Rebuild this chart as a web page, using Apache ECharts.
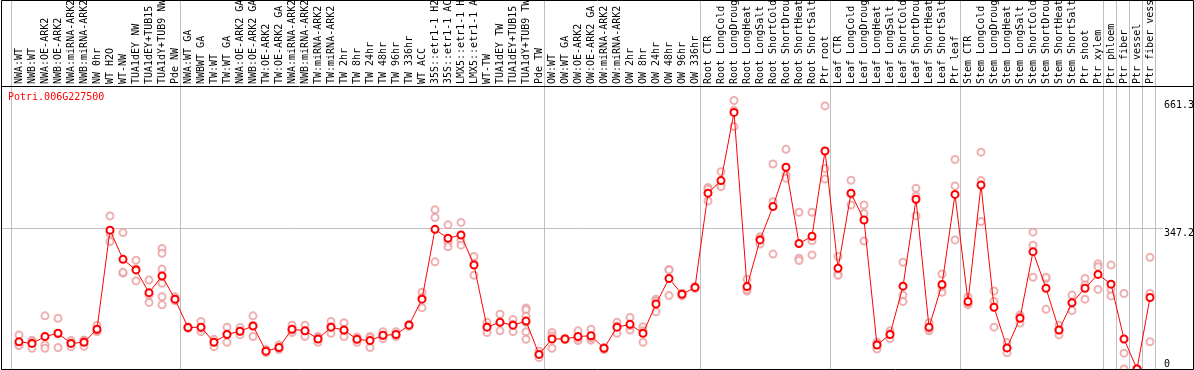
<!DOCTYPE html>
<html><head><meta charset="utf-8">
<script src="https://cdn.jsdelivr.net/npm/echarts@6/dist/echarts.min.js"></script>
<style>html,body{margin:0;padding:0;background:#fff}#c{width:1194px;height:370px}</style>
</head><body><div id="c"></div>
<script>
const title = 'Potri.006G227500';
const categories = [
 'NWA:WT','NWB:WT','NWA:OE-ARK2','NWB:OE-ARK2','NWA:miRNA-ARK2','NWB:miRNA-ARK2','NW 0hr','WT H2O','WT-NW','TUA1dEY NW','TUA1dEY+TUB15 NW','TUA1dY+TUB9 NW','Pde NW',
 'NWA:WT GA','NWBWT GA','TW:WT','TW:WT GA','NWA:OE-ARK2 GA','NWB:OE-ARK2 GA','TW:OE-ARK2','TW:OE-ARK2 GA','NWA:miRNA-ARK2 GA','NWB:miRNA-ARK2 GA','TW:miRNA-ARK2','TW:miRNA-ARK2 GA',
 'TW 2hr','TW 8hr','TW 24hr','TW 48hr','TW 96hr','TW 336hr','WT ACC','35S::etr1-1 H2O','35S::etr1-1 ACC','LMX5::etr1-1 H2O','LMX5::etr1-1 ACC','WT-TW','TUA1dEY TW','TUA1dEY+TUB15 TW','TUA1dY+TUB9 TW','Pde TW',
 'OW:WT','OW:WT GA','OW:OE-ARK2','OW:OE-ARK2 GA','OW:miRNA-ARK2','OW:miRNA-ARK2 GA','OW 2hr','OW 8hr','OW 24hr','OW 48hr','OW 96hr','OW 336hr',
 'Root CTR','Root LongCold','Root LongDrought','Root LongHeat','Root LongSalt','Root ShortCold','Root ShortDrought','Root ShortHeat','Root ShortSalt','Ptr root',
 'Leaf CTR','Leaf LongCold','Leaf LongDrought','Leaf LongHeat','Leaf LongSalt','Leaf ShortCold','Leaf ShortDrought','Leaf ShortHeat','Leaf ShortSalt','Ptr leaf',
 'Stem CTR','Stem LongCold','Stem LongDrought','Stem LongHeat','Stem LongSalt','Stem ShortCold','Stem ShortDrought','Stem ShortHeat','Stem ShortSalt','Ptr shoot',
 'Ptr xylem','Ptr phloem','Ptr fiber','Ptr vessel','Ptr fiber vessel'
];
const means = [
 67,63,80,88,63,66,98,342,270,244,188,229,172,
 102,103,66,85,93,106,44,53,98,94,74,103,96,73,70,83,85,108,172,344,322,330,256,103,115,108,118,36,
 74,74,80,82,51,103,110,88,160,223,184,201,
 433,464,632,203,318,400,497,309,327,537,
 248,433,367,59,85,204,418,103,208,430,
 166,453,152,52,125,289,199,96,163,199,
 233,209,74,0,176
];
const replicates = [
 [84,59,58],[71,51,67],[131,59,51],[125,53,86],[70,55,64],[71,56,71],[108,92,94],[377,334,314],[336,236,238],[268,217,247],[219,182,164],[297,285,246,211,178,158],[178,168,171],
 [104,100,102],[117,92,100],[69,55,73],[103,66,86],[102,84,93],[131,80,107],[40,45,48],[59,48,52],[108,90,96],[108,80,94],[80,66,76],[117,88,104],[114,80,94],[79,66,74],[80,53,77],[92,75,82],[92,80,83],[105,110,109],[189,151,176],[392,373,264],[355,311,301],[361,316,305],[277,260,231],[115,90,104],[135,94,116],[122,92,110],[150,146,130,115,92,73],[44,28,36],
 [90,51,81],[72,75,75],[94,70,76],[98,71,77],[48,52,53],[115,88,106],[127,96,107],[104,66,94],[172,141,167],[245,181,244],[180,186,186],[198,203,202],
 [447,443,414],[486,453,449],[661.3,637,597],[221,192,196],[326,308,320],[412,283,505],[541,478,470],[386,273,267],[386,316,281],[648,494,468],
 [277,234,231],[465,404,430],[404,383,315],[66,49,63],[94,75,87],[263,182,166],[445,426,377],[114,94,100],[234,189,203],[516,451,318],
 [177,158,163],[534,464,363],[192,167,103],[65,40,52],[133,113,128],[337,305,226],[223,147,226],[108,84,96],[182,144,164],[223,207,172],
 [259,252,196],[256,196,180],[186,39,0],[0,0,0],[275,186,67]
];
const groupStarts = [0,13,41,53,63,73,84,85,86,87];
const yMax = 697;
const yLabelValues = [347.2, 661.3];
const yZeroLabel = [0];

const FONT = 'DejaVu Sans Mono';
const repPoints = [];
replicates.forEach((r, i) => r.forEach(v => repPoints.push([i, v])));

const chart = echarts.init(document.getElementById('c'), null, {renderer: 'canvas'});
chart.setOption({
  animation: false,
  title: {text: title, left: 8, top: 92, padding: 0,
    textStyle: {color: '#ff0000', fontFamily: FONT, fontSize: 10, fontWeight: 'normal'}},
  grid: [
    {left: 11, top: 0, width: 1144, height: 369, outerBoundsMode: 'none', containLabel: false},
    {left: 12.5, top: 86, width: 1144, height: 283, outerBoundsMode: 'none', containLabel: false},
    {left: 2, top: 86, width: 1161, height: 283, outerBoundsMode: 'none', containLabel: false}
  ],
  xAxis: [
    {gridIndex: 0, type: 'category', data: categories, boundaryGap: true,
      axisLine: {show: false}, axisTick: {show: false}, axisLabel: {show: false},
      splitLine: {show: true, interval: (i) => groupStarts.includes(i), lineStyle: {color: '#c0c0c0', width: 1}}},
    {gridIndex: 1, type: 'category', position: 'top', data: categories, boundaryGap: true,
      axisLine: {show: false}, axisTick: {show: false}, splitLine: {show: false},
      axisLabel: {interval: 0, rotate: 90, margin: 2, fontFamily: FONT, fontSize: 10, color: '#000'}},
    {gridIndex: 2, type: 'value', min: 0, max: 1, show: false}
  ],
  yAxis: [
    {gridIndex: 0, type: 'value', min: 0, max: 1, show: false},
    {gridIndex: 1, type: 'value', min: 0, max: yMax, show: false},
    {gridIndex: 2, type: 'value', min: 0, max: yMax, position: 'right',
      axisLine: {show: false}, axisTick: {show: false, customValues: [347.2]},
      axisLabel: {customValues: yLabelValues, margin: 1, verticalAlign: 'top', fontFamily: FONT, fontSize: 10, color: '#000',
        formatter: (v) => String(v)},
      splitLine: {show: true, lineStyle: {color: '#c0c0c0', width: 1}}},
    {gridIndex: 2, type: 'value', min: 0, max: yMax, position: 'right',
      axisLine: {show: false}, axisTick: {show: false, customValues: yZeroLabel}, splitLine: {show: false},
      axisLabel: {customValues: yZeroLabel, margin: 1, verticalAlign: 'bottom', fontFamily: FONT, fontSize: 10, color: '#000'}}
  ],
  series: [
    {type: 'scatter', name: 'replicates', xAxisIndex: 1, yAxisIndex: 1, data: repPoints,
      symbol: 'emptyCircle', symbolSize: 7, z: 2, clip: false,
      itemStyle: {color: '#ea9c9c', borderColor: '#ea9c9c', borderWidth: 1}},
    {type: 'line', name: 'mean', xAxisIndex: 1, yAxisIndex: 1, data: means,
      symbol: 'emptyCircle', symbolSize: 7, z: 3, clip: false,
      lineStyle: {color: '#ff0000', width: 1},
      itemStyle: {color: '#ff0000', borderColor: '#ff0000', borderWidth: 1.3}}
  ],
  graphic: [
    {type: 'rect', z: 100, shape: {x: 1.5, y: 0.5, width: 1192, height: 369},
      style: {fill: 'none', stroke: '#000', lineWidth: 1}},
    {type: 'line', z: 100, shape: {x1: 1.5, y1: 86.5, x2: 1193.5, y2: 86.5},
      style: {stroke: '#000', lineWidth: 1}}
  ]
});
</script></body></html>
